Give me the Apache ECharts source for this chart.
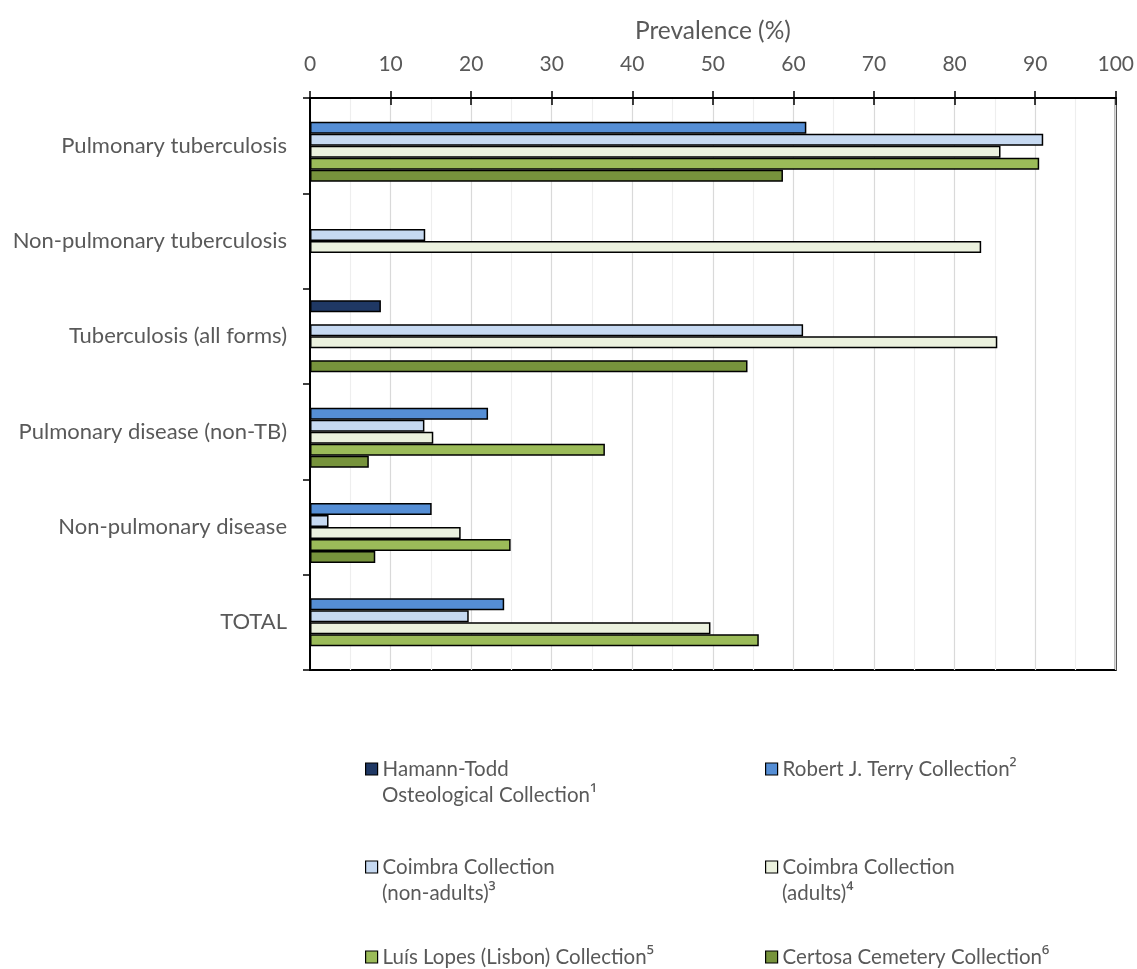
<!DOCTYPE html>
<html>
<head>
<meta charset="utf-8">
<title>Prevalence by collection</title>
<script src="https://cdn.jsdelivr.net/npm/echarts@6/dist/echarts.min.js"></script>
<style>
  html, body { margin: 0; padding: 0; background: #ffffff; }
  #chart { width: 1137px; height: 969px; }
</style>
</head>
<body>
<div id="chart"></div>
<script>
// Disease categories, top to bottom
const categories = [
  'Pulmonary tuberculosis',
  'Non-pulmonary tuberculosis',
  'Tuberculosis (all forms)',
  'Pulmonary disease (non-TB)',
  'Non-pulmonary disease',
  'TOTAL'
];

// Prevalence (%) per collection; null where no figure is reported
const hamannTodd       = [null, null, 8.8, null, null, null];
const robertTerry      = [61.6, null, null, 22.1, 15.1, 24.1];
const coimbraNonAdults = [91.0, 14.3, 61.2, 14.2, 2.3, 19.7];
const coimbraAdults    = [85.7, 83.3, 85.3, 15.3, 18.7, 49.7];
const luisLopes        = [90.5, null, null, 36.6, 24.9, 55.7];
const certosa          = [58.7, null, 54.3, 7.3, 8.1, null];

// Collection names (first line, optional second line)
const seriesNames = [
  ['Hamann-Todd', 'Osteological Collection¹'],
  ['Robert J. Terry Collection²'],
  ['Coimbra Collection', '(non-adults)³'],
  ['Coimbra Collection', '(adults)⁴'],
  ['Luís Lopes (Lisbon) Collection⁵'],
  ['Certosa Cemetery Collection⁶']
];
const seriesData = [hamannTodd, robertTerry, coimbraNonAdults, coimbraAdults, luisLopes, certosa];
const seriesColors = ['#1f3864', '#558ed5', '#c6d9f1', '#ebf1de', '#9bbb59', '#77933c'];

// Prevalence axis ticks
const xMin = 0, xMax = 100, xStep = 10;

const FONT = 'Lato, "Noto Sans", sans-serif';
const SUP_FONT = '"Noto Sans", "DejaVu Sans", sans-serif';
const TEXT = '#595959';
const FS_TICK = 21;
const FS_CAT = 22;
const FS_TITLE = 24.5;
const FS_LEGEND = 20.5;
const LH = 26;

const fullName = n => n.join(' ');

// Rich-text markup so footnote marks use a font with full-size superscript digits
const supRich = {
  t: { fontFamily: FONT, fontSize: FS_LEGEND, color: TEXT, lineHeight: LH },
  s: { fontFamily: SUP_FONT, fontSize: FS_LEGEND, color: TEXT, lineHeight: LH }
};
const withSup = s => {
  const m = s.match(/^(.*?)([¹²³⁴⁵⁶]*)$/);
  return '{t|' + m[1] + '}' + (m[2] ? '{s|' + m[2] + '}' : '');
};

const series = seriesData.map((d, i) => ({
  name: fullName(seriesNames[i]),
  type: 'bar',
  xAxisIndex: 0,
  yAxisIndex: 0,
  data: d,
  barGap: '0%',
  barCategoryGap: '24.5%',
  itemStyle: { color: seriesColors[i], borderColor: '#000000', borderWidth: 1.5 },
  emphasis: { disabled: true }
}));

// Legend block: two columns, three rows; a second line sits under the first
const legendSpots = [
  { left: 365, iconTop: 763 },
  { left: 765, iconTop: 763 },
  { left: 365, iconTop: 861 },
  { left: 765, iconTop: 861 },
  { left: 365, iconTop: 951 },
  { left: 765, iconTop: 951 }
];
const legends = seriesNames.map((n, i) => ({
  data: [fullName(n)],
  formatter: () => withSup(n[0]),
  left: legendSpots[i].left,
  top: legendSpots[i].iconTop - 7,
  padding: 0,
  itemWidth: 12,
  itemHeight: 12,
  icon: 'rect',
  selectedMode: false,
  itemStyle: { borderColor: '#000000', borderWidth: 1.2 },
  textStyle: { fontFamily: FONT, fontSize: FS_LEGEND, color: TEXT, lineHeight: LH, rich: supRich }
}));
const secondLines = seriesNames
  .map((n, i) => n.length > 1 ? {
    type: 'text',
    x: legendSpots[i].left + 17,
    y: legendSpots[i].iconTop + 6 + LH,
    style: {
      text: withSup(n[1]), fontFamily: FONT, fontSize: FS_LEGEND, fill: TEXT,
      verticalAlign: 'middle', align: 'left', rich: supRich
    }
  } : null)
  .filter(Boolean);

const chart = echarts.init(document.getElementById('chart'), null, { renderer: 'canvas' });
chart.setOption({
  backgroundColor: '#ffffff',
  animation: false,
  textStyle: { fontFamily: FONT },
  grid: {
    left: 310, right: 20, top: 98, bottom: 299,
    show: true, borderColor: '#000000', borderWidth: 2, backgroundColor: 'transparent'
  },
  legend: legends,
  graphic: secondLines,
  xAxis: [
    {
      type: 'value',
      position: 'top',
      min: xMin, max: xMax, interval: xStep,
      name: 'Prevalence (%)',
      nameLocation: 'middle',
      nameGap: 54,
      nameTextStyle: { fontFamily: FONT, fontSize: FS_TITLE, color: TEXT },
      axisLine: { show: true, lineStyle: { color: '#000000', width: 2 } },
      axisTick: { show: true, length: 7, lineStyle: { color: '#000000', width: 1.5 } },
      axisLabel: { fontFamily: FONT, fontSize: FS_TICK, color: TEXT, margin: 23 },
      splitLine: { show: true, lineStyle: { color: '#d9d9d9', width: 1.2 } },
      minorTick: { show: false, splitNumber: 2 },
      minorSplitLine: { show: true, lineStyle: { color: '#eeeeee', width: 1.2 } }
    },
    {
      // inward half of the crossing ticks on the top axis
      type: 'value',
      position: 'bottom',
      offset: -572,
      min: xMin, max: xMax, interval: xStep,
      axisLine: { show: false },
      axisTick: { show: true, length: 7, lineStyle: { color: '#000000', width: 1.5 } },
      axisLabel: { show: false },
      splitLine: { show: false }
    }
  ],
  yAxis: {
    type: 'category',
    data: categories,
    inverse: true,
    axisLine: { show: true, lineStyle: { color: '#000000', width: 2 } },
    axisTick: { show: true, length: 7, lineStyle: { color: '#000000', width: 1.5 } },
    axisLabel: { fontFamily: FONT, fontSize: FS_CAT, color: TEXT, margin: 23 },
    splitLine: { show: false }
  },
  series: series
});
</script>
</body>
</html>
